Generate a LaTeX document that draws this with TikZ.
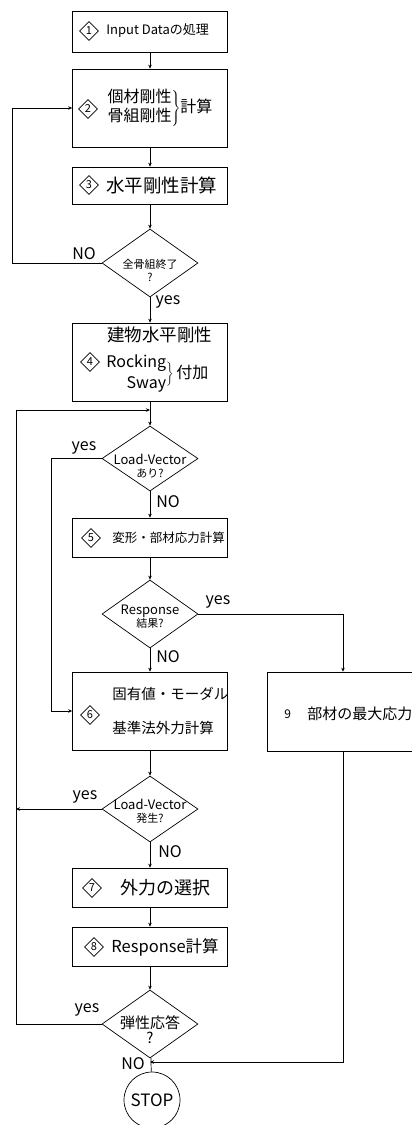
\documentclass[tikz,border=0pt]{standalone}
\usepackage{fontspec}
\setmainfont{Noto Sans CJK JP}
\usetikzlibrary{shapes}
\usetikzlibrary{arrows.meta}
\newcommand{\fsz}[2]{\fontsize{#1}{#2}\selectfont}
\tikzset{
    mybox/.style = {rectangle, draw=black, minimum width=155pt, inner sep=0pt},
    mydia/.style = {diamond, draw=black, minimum width=96pt, minimum height=68pt, inner sep=0pt},
    mynum/.style = {diamond, draw=black, minimum size=19pt, inner sep=0pt, font=\fsz{11}{11}},
    mytxt/.style = {anchor=west, inner sep=0pt, align=left},
    mydtxt/.style = {inner sep=0pt, align=center, font=\fsz{11}{13}},
    mylab/.style = {inner sep=0pt, font=\fsz{16}{16}},
    edgea/.style = {-{Stealth[length=4pt,width=3.5pt]}, black},
    edgen/.style = {-, black}
}
\begin{document}
\begin{tikzpicture}[x=1pt, y=-1pt, line width=0.7pt]
  \useasboundingbox (0,0) rectangle (412,1125);
  % boxes and decisions
  \node[mybox, minimum height=41pt] (b1) at (150,31.5) {};
  \node[mybox, minimum height=78pt] (b2) at (150,108) {};
  \node[mybox, minimum height=37pt] (b3) at (150,185.5) {};
  \node[mydia] (d1) at (150,263) {};
  \node[mybox, minimum height=78pt] (b4) at (150,362) {};
  \node[mydia, minimum height=65pt] (d2) at (150,458.5) {};
  \node[mybox, minimum height=39pt] (b5) at (150,537.5) {};
  \node[mydia] (d3) at (150,614) {};
  \node[mybox, minimum height=78pt] (b6) at (150,711) {};
  \node[mybox, minimum width=152pt, minimum height=79pt] (b9) at (343,711.5) {};
  \node[mydia, minimum height=66pt] (d4) at (150,809) {};
  \node[mybox, minimum height=39pt] (b7) at (150,887.5) {};
  \node[mybox, minimum height=39pt] (b8) at (150,946.5) {};
  \node[mydia] (d5) at (150,1024) {};
  \node[circle, draw=black, minimum size=56pt, inner sep=0pt, font=\fsz{17}{17}] (stop) at (152,1100) {STOP};
  % step numbers
  \node[mynum] (n1) at (89,31) {1};
  \node[mynum] (n2) at (88,109) {2};
  \node[mynum] (n3) at (89,185) {3};
  \node[mynum] (n4) at (90,362) {4};
  \node[mynum] (n5) at (91,538) {5};
  \node[mynum] (n6) at (90,715) {6};
  \node[mynum] (n7) at (92,888) {7};
  \node[mynum] (n8) at (94,947) {8};
  % texts
  \node[mytxt, font=\fsz{13}{13}] (t1) at (106,31) {Input Dataの処理};
  \node[mytxt, font=\fsz{16}{19}] (t2) at (106,108)
    {$\left.\begin{tabular}{@{}l@{}}個材剛性\\骨組剛性\end{tabular}\right\}$計算};
  \node[mytxt, font=\fsz{18.5}{18.5}] (t3) at (106,185) {水平剛性計算};
  \node[mytxt, font=\fsz{17.5}{17.5}] (t4a) at (107,335) {建物水平剛性};
  \node[mytxt, font=\fsz{16}{21}] (t4b) at (106,374)
    {$\begin{tabular}{@{}r@{}}Rocking\\Sway\end{tabular}\bigg\}$\,付加};
  \node[mytxt, font=\fsz{12.5}{12.5}] (t5) at (112,538) {変形・部材応力計算};
  \node[mytxt, font=\fsz{14.5}{34}] (t6) at (112,711) {固有値・モーダル\\基準法外力計算};
  \node[mytxt, font=\fsz{12}{12}] (t9a) at (284,714) {9};
  \node[mytxt, font=\fsz{15}{15}] (t9b) at (307,714) {部材の最大応力};
  \node[mytxt, font=\fsz{18}{18}] (t7) at (120,888) {外力の選択};
  \node[mytxt, font=\fsz{16.5}{16.5}] (t8) at (111,947) {Response計算};
  \node[mydtxt] (q1) at (150,270) {全骨組終了\\?};
  \node[mydtxt] (q2) at (150,466) {{\fsz{13}{13}Load-Vector}\\あり?};
  \node[mydtxt] (q3) at (150,617) {{\fsz{13}{13}Response}\\結果?};
  \node[mydtxt] (q4) at (150,811) {{\fsz{13}{13}Load-Vector}\\発生?};
  \node[mydtxt, font=\fsz{15}{15}] (q5) at (150,1030) {弾性応答\\?};
  % labels
  \node[mylab] (l1n) at (84,254) {NO};
  \node[mylab] (l1y) at (168,302) {yes};
  \node[mylab] (l2y) at (84,448) {yes};
  \node[mylab] (l2n) at (168,502) {NO};
  \node[mylab] (l3y) at (218,602) {yes};
  \node[mylab] (l3n) at (168,657) {NO};
  \node[mylab] (l4y) at (85,797) {yes};
  \node[mylab] (l4n) at (170,852) {NO};
  \node[mylab] (l5y) at (87,1010) {yes};
  \node[mylab] (l5n) at (133,1064) {NO};
  % junctions
  \coordinate (j4) at (150,410);
  \coordinate (j6) at (16,809);
  \coordinate (j5) at (150,1062);
  % main line
  \draw[edgea] (b1) -- (b2);
  \draw[edgea] (b2) -- (b3);
  \draw[edgea] (b3) -- (d1);
  \draw[edgea] (d1) -- (b4);
  \draw[edgea] (b4) -- (d2);
  \draw[edgea] (d2) -- (b5);
  \draw[edgea] (b5) -- (d3);
  \draw[edgea] (d3) -- (b6);
  \draw[edgea] (b6) -- (d4);
  \draw[edgea] (d4) -- (b7);
  \draw[edgea] (b7) -- (b8);
  \draw[edgea] (b8) -- (d5);
  \draw[edgen] (d5) -- (stop);
  % loops
  \draw[edgea] (d1.west) -- ++(-89,0) |- (b2.west);
  \draw[edgea] (d2.west) -- ++(-50,0) |- (b6.west);
  \draw[edgea] (d5.west) -| (16,410) -- (j4);
  \draw[edgea] (d4.west) -- (j6);
  \draw[edgea] (d3.east) -| (b9.north);
  \draw[edgea] (b9.south) |- (j5);
\end{tikzpicture}
\end{document}
